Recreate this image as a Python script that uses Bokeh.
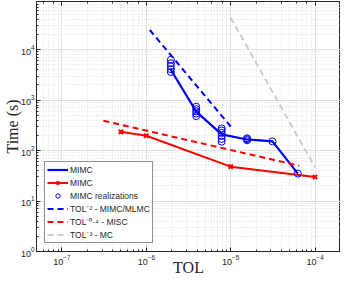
from bokeh.plotting import figure
from bokeh.models import Legend, LegendItem, LogAxis, Range1d, CustomJSTickFormatter
from bokeh.embed import file_html
from bokeh.resources import INLINE

# ---- data ----
tol_mimc = [6.25e-5, 3.125e-5, 1.5625e-5, 7.8125e-6, 3.90625e-6, 1.953125e-6]
time_mimc = [35, 152, 166, 210, 590, 4000]

real_tol = [6.25e-5, 3.125e-5,
            1.5625e-5, 1.5625e-5, 1.5625e-5,
            7.8125e-6, 7.8125e-6, 7.8125e-6, 7.8125e-6, 7.8125e-6, 7.8125e-6,
            3.90625e-6, 3.90625e-6, 3.90625e-6, 3.90625e-6, 3.90625e-6,
            1.953125e-6, 1.953125e-6, 1.953125e-6, 1.953125e-6, 1.953125e-6]
real_time = [35, 152,
             160, 168, 175,
             150, 170, 195, 225, 250, 275,
             480, 540, 600, 660, 740,
             3600, 4100, 4700, 5400, 6300]

tol_misc = [5e-7, 1e-6, 1e-5, 1e-4]
time_misc = [235, 197, 48, 30]

ref2_tol = [1.1e-6, 1.0e-5]
ref2_time = [24500, 300]
ref04_tol = [3.1e-7, 6.5e-5]
ref04_time = [390, 50]
ref3_tol = [1.0e-5, 1.0e-4]
ref3_time = [43000, 46]

x_lim = (5e-8, 2e-4)
y_lim = (1, 9e4)

BLUE = "#0000ff"
RED = "#ff0000"
GRAY = "#cccccc"
DARK = "#262626"

p = figure(width=340, height=278, x_axis_type="log", y_axis_type="log",
           x_range=Range1d(*x_lim), y_range=Range1d(*y_lim),
           output_backend="svg", toolbar_location=None,
           min_border_left=33, min_border_right=0, min_border_top=1, min_border_bottom=0)

p.background_fill_color = "white"
p.border_fill_color = "white"
p.outline_line_color = DARK
p.outline_line_width = 1

bottom_ax = p.below[0]
left_ax = p.left[0]

# extra top axis for box ticks
top_ax = LogAxis()
top_ax.formatter = CustomJSTickFormatter(code="return ''")
top_ax.major_label_text_font_size = "0px"
top_ax.major_label_standoff = 0
p.add_layout(top_ax, "above")

for ax in (bottom_ax, left_ax, top_ax):
    ax.major_tick_in = 4
    ax.major_tick_out = 0
    ax.minor_tick_in = 2
    ax.minor_tick_out = 0
    ax.axis_line_color = DARK
    ax.major_tick_line_color = DARK
    ax.minor_tick_line_color = DARK
    ax.major_label_text_color = DARK

for ax in (bottom_ax, left_ax):
    ax.major_label_text_font = "Liberation Sans"
    ax.major_label_text_font_size = "9px"
    ax.major_label_standoff = 2
    ax.axis_label_text_font = "Liberation Serif"
    ax.axis_label_text_font_style = "normal"
    ax.axis_label_text_font_size = "16px"
    ax.axis_label_text_color = DARK

bottom_ax.major_label_standoff = 3
bottom_ax.axis_label = "TOL"
bottom_ax.axis_label_standoff = -9
left_ax.axis_label = "Time (s)"
left_ax.axis_label_standoff = -3

p.grid.grid_line_color = "#e0e0e0"
p.grid.minor_grid_line_color = "#dedede"
p.grid.minor_grid_line_dash = "1 2"

r_mimc = p.line(tol_mimc, time_mimc, line_color=BLUE, line_width=2.2)
r_misc = p.line(tol_misc, time_misc, line_color=RED, line_width=2)
r_misc_m = p.scatter(tol_misc, time_misc, marker="x", size=6, line_color=RED, line_width=2)
r_real = p.scatter(real_tol, real_time, marker="circle", size=7, fill_color=None,
                   line_color=BLUE, line_width=1)
r_ref2 = p.line(ref2_tol, ref2_time, line_color=BLUE, line_width=2, line_dash="6 4")
r_ref04 = p.line(ref04_tol, ref04_time, line_color=RED, line_width=2, line_dash="6 4")
r_ref3 = p.line(ref3_tol, ref3_time, line_color=GRAY, line_width=2, line_dash="6 4")

legend = Legend(items=[
    LegendItem(label="MIMC", renderers=[r_mimc]),
    LegendItem(label="MIMC", renderers=[r_misc, r_misc_m]),
    LegendItem(label="MIMC realizations", renderers=[r_real]),
    LegendItem(label="TOL\u207b\u00b2 - MIMC/MLMC", renderers=[r_ref2]),
    LegendItem(label="TOL\u207b\u2070\u00b7\u2074 - MISC", renderers=[r_ref04]),
    LegendItem(label="TOL\u207b\u00b3 - MC", renderers=[r_ref3]),
], location="bottom_left")
legend.margin = 8
legend.padding = 2
legend.spacing = 2
legend.label_height = 11
legend.glyph_height = 11
legend.glyph_width = 21
legend.label_standoff = 2
legend.label_text_font = "Liberation Sans"
legend.label_text_font_size = "8.5px"
legend.label_text_color = DARK
legend.border_line_color = DARK
legend.border_line_width = 1
legend.background_fill_alpha = 1
p.add_layout(legend, "center")

open("out.html", "w").write(file_html(p, INLINE))
